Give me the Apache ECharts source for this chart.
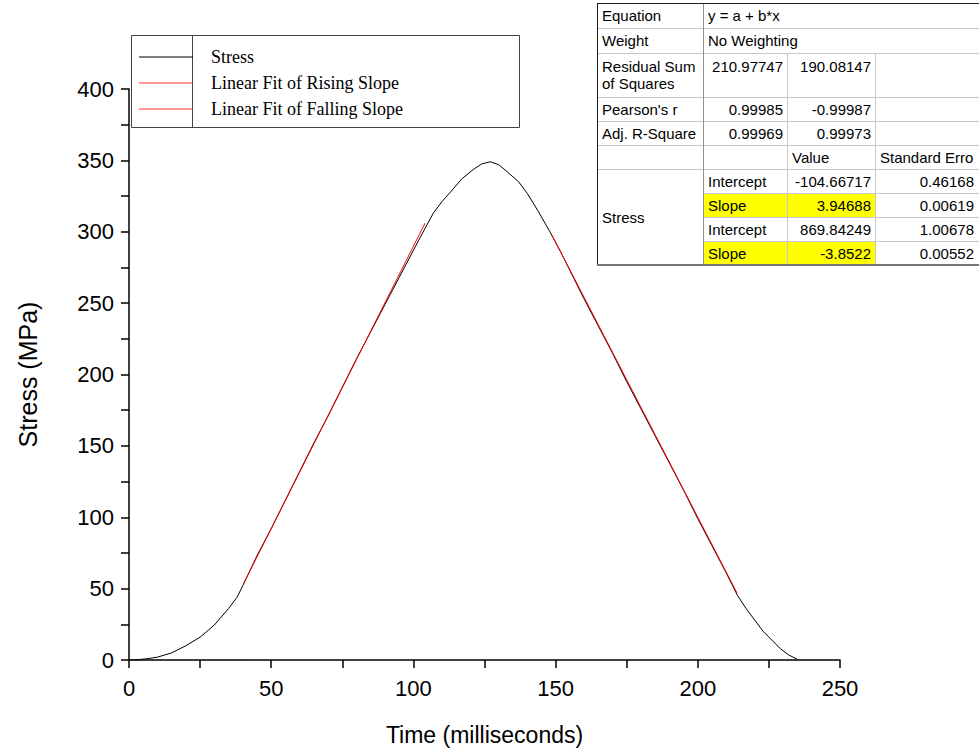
<!DOCTYPE html>
<html>
<head>
<meta charset="utf-8">
<script src="https://cdn.jsdelivr.net/npm/echarts@6/dist/echarts.min.js"></script>
<style>
  html, body { margin: 0; padding: 0; background: #fff; }
  #chart { width: 979px; height: 755px; }
</style>
</head>
<body>
<div id="chart"></div>
<script>
// measured stress trace, [time ms, stress MPa]
const stressData = [
  [0, 0], [3, 0.2], [6, 0.8], [10, 2], [15, 5], [20, 10], [25, 16], [30, 24.5],
  [35, 36], [38, 44], [40, 52], [45, 73], [50, 92], [55, 112], [60, 132], [65, 152],
  [70, 171], [75, 191], [80, 211], [85, 230], [90, 249], [95, 268], [100, 287],
  [104, 302], [107, 313], [110, 321], [114, 330], [117, 337], [121, 343.5], [124, 347.5],
  [127, 349], [130, 347], [133, 342], [137, 335], [140, 327], [144, 314], [148, 300],
  [152, 285], [156, 269], [160, 253], [165, 234], [170, 215], [175, 195], [180, 176],
  [185, 157], [190, 138], [195, 119], [200, 99], [205, 80], [210, 61], [214, 45],
  [217, 36], [220, 28], [223, 20], [226, 14], [229, 8], [232, 3.5], [235, 0.5]
];
// fitted segments as drawn (end points)
const risingFit = [[40.4, 54], [104.1, 306]];
const fallingFit = [[148.7, 297.7], [213.8, 46.9]];

const seriesNames = ['Stress', 'Linear Fit of Rising Slope', 'Linear Fit of Falling Slope'];

// fit report table
const statLabels = ['Equation', 'Weight', 'Residual Sum\nof Squares', "Pearson's r", 'Adj. R-Square'];
const equationText = 'y = a + b*x';
const weightText = 'No Weighting';
const rss = ['210.97747', '190.08147'];
const pearsonR = ['0.99985', '-0.99987'];
const adjR2 = ['0.99969', '0.99973'];
const paramHeader = ['Value', 'Standard Erro'];
const paramNames = ['Intercept', 'Slope', 'Intercept', 'Slope'];
const paramValues = ['-104.66717', '3.94688', '869.84249', '-3.8522'];
const paramErrors = ['0.46168', '0.00619', '1.00678', '0.00552'];

const chart = echarts.init(document.getElementById('chart'), null, { renderer: 'svg' });

// ---- table drawn with graphic elements ----
const colX = [597, 703, 787, 875, 979];
const rowY = [3, 28, 53, 97, 121, 145, 169, 193, 217, 241, 265];
const tFont = '15px "Liberation Sans", Arial, sans-serif';
const light = '#c8c8c8';
const g = [];

function hline(x1, x2, y, color, w) {
  g.push({ type: 'line', z: 10, shape: { x1: x1, y1: y, x2: x2, y2: y }, style: { stroke: color, lineWidth: w || 1 } });
}
function vline(x, y1, y2, color, w) {
  g.push({ type: 'line', z: 10, shape: { x1: x, y1: y1, x2: x, y2: y2 }, style: { stroke: color, lineWidth: w || 1 } });
}
function txt(s, x, y, align, valign) {
  g.push({ type: 'text', z: 12, x: x, y: y,
    style: { text: s, font: tFont, fill: '#000', align: align || 'left', verticalAlign: valign || 'middle', lineHeight: 17 } });
}

// background + yellow highlight
g.push({ type: 'rect', z: 9, shape: { x: colX[0], y: rowY[0], width: colX[4] - colX[0], height: rowY[10] - rowY[0] }, style: { fill: '#fff' } });
[7, 9].forEach(function (r) {
  g.push({ type: 'rect', z: 9, shape: { x: colX[1], y: rowY[r], width: colX[3] - colX[1], height: rowY[r + 1] - rowY[r] }, style: { fill: '#ffff00' } });
});

// inner grid
for (let r = 1; r < 10; r++) {
  const x1 = r >= 7 ? colX[1] : colX[0];
  hline(x1, colX[4], rowY[r] + 0.5, light);
}
vline(colX[2] + 0.5, rowY[2], rowY[10], light);
vline(colX[3] + 0.5, rowY[2], rowY[10], light);
vline(colX[1] + 0.5, rowY[0], rowY[10], '#909090');
// outer border
hline(colX[0], colX[4], rowY[0] + 0.5, '#222');
vline(colX[0] + 0.5, rowY[0], rowY[10], '#222');
hline(colX[0], colX[4], rowY[10], '#777', 2);

// texts
const padL = 5, padR = 4;
statLabels.forEach(function (s, i) {
  const y = i === 2 ? rowY[2] + 22 : (rowY[i] + rowY[i + 1]) / 2;
  txt(s, colX[0] + padL, y);
});
txt(equationText, colX[1] + padL, (rowY[0] + rowY[1]) / 2);
txt(weightText, colX[1] + padL, (rowY[1] + rowY[2]) / 2);
[rss, pearsonR, adjR2].forEach(function (vals, k) {
  const r = k + 2;
  const y = r === 2 ? rowY[2] + 13 : (rowY[r] + rowY[r + 1]) / 2;
  txt(vals[0], colX[2] - padR, y, 'right');
  txt(vals[1], colX[3] - padR, y, 'right');
});
txt(paramHeader[0], colX[2] + padL, (rowY[5] + rowY[6]) / 2);
txt(paramHeader[1], colX[3] + padL, (rowY[5] + rowY[6]) / 2);
txt('Stress', colX[0] + padL, (rowY[6] + rowY[10]) / 2);
paramNames.forEach(function (s, i) {
  const y = (rowY[6 + i] + rowY[7 + i]) / 2;
  txt(s, colX[1] + padL, y);
  txt(paramValues[i], colX[3] - padR, y, 'right');
  txt(paramErrors[i], colX[4] - 5, y, 'right');
});

// legend frame
g.push({ type: 'rect', z: 3, shape: { x: 131.5, y: 35.5, width: 388, height: 92 }, style: { fill: '#fff', stroke: '#444', lineWidth: 1 } });
g.push({ type: 'line', z: 3, shape: { x1: 192.5, y1: 35.5, x2: 192.5, y2: 127.5 }, style: { stroke: '#444', lineWidth: 1 } });

const axisCommon = {
  type: 'value',
  axisLine: { show: true, lineStyle: { color: '#000', width: 1.5 } },
  axisTick: { show: true, inside: false, length: 8, lineStyle: { color: '#000', width: 1.5 } },
  minorTick: { show: true, splitNumber: 2, length: 8, lineStyle: { color: '#000', width: 1.5 } },
  splitLine: { show: false },
  nameLocation: 'middle'
};

const option = {
  backgroundColor: '#fff',
  animation: false,
  grid: { left: 129, right: 139, top: 89, bottom: 95, containLabel: false, outerBoundsMode: 'none' },
  legend: {
    orient: 'vertical',
    left: 134,
    top: 43,
    icon: 'rect',
    itemWidth: 54,
    itemHeight: 1,
    itemGap: 8,
    data: seriesNames,
    textStyle: { fontFamily: '"Liberation Serif", "Times New Roman", serif', fontSize: 18, color: '#000', lineHeight: 18, padding: [0, 0, 0, 13] }
  },
  xAxis: Object.assign({}, axisCommon, {
    min: 0, max: 250, interval: 50,
    name: 'Time (milliseconds)',
    nameGap: 63,
    nameTextStyle: { fontFamily: '"Liberation Sans", Arial, sans-serif', fontSize: 23, color: '#000' },
    axisLabel: { fontFamily: '"Liberation Sans", Arial, sans-serif', fontSize: 22, color: '#000', margin: 17 }
  }),
  yAxis: Object.assign({}, axisCommon, {
    min: 0, max: 400, interval: 50,
    name: 'Stress (MPa)',
    nameGap: 89,
    nameTextStyle: { fontFamily: '"Liberation Sans", Arial, sans-serif', fontSize: 25, color: '#000' },
    axisLabel: { fontFamily: '"Liberation Sans", Arial, sans-serif', fontSize: 22, color: '#000', margin: 15 }
  }),
  series: [
    { name: seriesNames[0], type: 'line', data: stressData, symbol: 'none', smooth: false,
      lineStyle: { color: '#000', width: 1 }, itemStyle: { color: '#000' } },
    { name: seriesNames[1], type: 'line', data: risingFit, symbol: 'none',
      lineStyle: { color: '#ff0000', width: 1 }, itemStyle: { color: '#ff3030' } },
    { name: seriesNames[2], type: 'line', data: fallingFit, symbol: 'none',
      lineStyle: { color: '#ff0000', width: 1 }, itemStyle: { color: '#ff3030' } }
  ],
  graphic: { elements: g }
};

chart.setOption(option);
</script>
</body>
</html>
